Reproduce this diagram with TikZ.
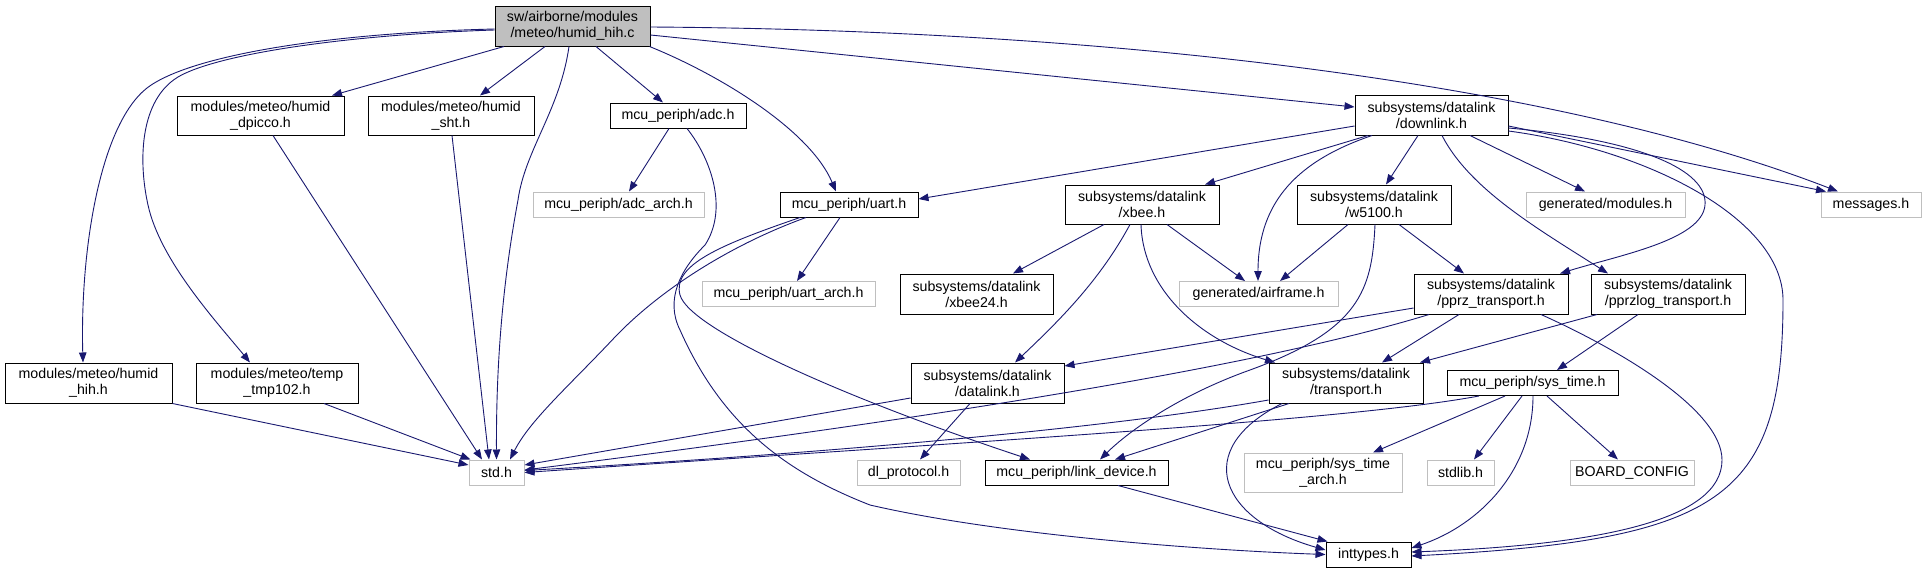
\documentclass[tikz,border=0pt]{standalone}
\usepackage{fontspec}
\setmainfont{Liberation Sans}
\usetikzlibrary{arrows.meta,calc}
\definecolor{edgeblue}{HTML}{191970}
\definecolor{lightgr}{HTML}{BFBFBF}
\begin{document}
\begin{tikzpicture}[x=1pt,y=-1pt,
 box/.style={draw=black, line width=1pt, fill=white, rectangle, inner sep=0pt, align=center, font=\fontsize{14.2}{16}\selectfont, text=black},
 gbox/.style={box, draw=lightgr},
 rootbox/.style={box, fill=lightgr},
 edge/.style={draw=edgeblue, line width=0.9pt, -{Triangle[length=10pt,width=7.5pt]}},
 ]
\useasboundingbox[fill=white] (0,0) rectangle (1927,573);
% nodes
\node[rootbox, minimum width=155pt, minimum height=40pt] (root) at (572.5,26) {sw/airborne/modules\\/meteo/humid\_hih.c};
\node[box, minimum width=167pt, minimum height=39pt] (dpicco) at (260.5,115.5) {modules/meteo/humid\\\_dpicco.h};
\node[box, minimum width=166pt, minimum height=39pt] (sht) at (451,115.5) {modules/meteo/humid\\\_sht.h};
\node[box, minimum width=136pt, minimum height=25pt] (adc) at (678,115.5) {mcu\_periph/adc.h};
\node[box, minimum width=153pt, minimum height=40pt] (downlink) at (1431.5,115) {subsystems/datalink\\/downlink.h};
\node[gbox, minimum width=100pt, minimum height=25pt] (messages) at (1871,204.5) {messages.h};
\node[gbox, minimum width=159pt, minimum height=25pt] (modules) at (1605.5,204.5) {generated/modules.h};
\node[box, minimum width=154pt, minimum height=39pt] (w5100) at (1374,204.5) {subsystems/datalink\\/w5100.h};
\node[box, minimum width=138pt, minimum height=25pt] (uart) at (849,204.5) {mcu\_periph/uart.h};
\node[box, minimum width=154pt, minimum height=39pt] (xbee) at (1142,204.5) {subsystems/datalink\\/xbee.h};
\node[gbox, minimum width=171pt, minimum height=25pt] (adcarch) at (618.5,204.5) {mcu\_periph/adc\_arch.h};
\node[gbox, minimum width=173pt, minimum height=25pt] (uartarch) at (788.5,294) {mcu\_periph/uart\_arch.h};
\node[box, minimum width=153pt, minimum height=40pt] (xbee24) at (976.5,294) {subsystems/datalink\\/xbee24.h};
\node[gbox, minimum width=159pt, minimum height=25pt] (airframe) at (1258.5,294) {generated/airframe.h};
\node[box, minimum width=154pt, minimum height=40pt] (pprz) at (1491,294) {subsystems/datalink\\/pprz\_transport.h};
\node[box, minimum width=154pt, minimum height=40pt] (pprzlog) at (1668,294) {subsystems/datalink\\/pprzlog\_transport.h};
\node[box, minimum width=167pt, minimum height=40pt] (hih) at (88.5,383) {modules/meteo/humid\\\_hih.h};
\node[box, minimum width=162pt, minimum height=40pt] (tmp) at (277,383) {modules/meteo/temp\\\_tmp102.h};
\node[box, minimum width=153pt, minimum height=40pt] (datalink) at (987.5,383) {subsystems/datalink\\/datalink.h};
\node[box, minimum width=154pt, minimum height=40pt] (transport) at (1346,383) {subsystems/datalink\\/transport.h};
\node[box, minimum width=171pt, minimum height=25pt] (systime) at (1532.5,383) {mcu\_periph/sys\_time.h};
\node[gbox, minimum width=55pt, minimum height=25pt] (std) at (496.5,472.5) {std.h};
\node[gbox, minimum width=103pt, minimum height=25pt] (dlp) at (908.5,472.5) {dl\_protocol.h};
\node[box, minimum width=183pt, minimum height=25pt] (link) at (1076.5,472.5) {mcu\_periph/link\_device.h};
\node[gbox, minimum width=158pt, minimum height=39pt] (sta) at (1323,472.5) {mcu\_periph/sys\_time\\\_arch.h};
\node[gbox, minimum width=67pt, minimum height=25pt] (stdlib) at (1460.5,472.5) {stdlib.h};
\node[gbox, minimum width=124pt, minimum height=25pt] (board) at (1632,472.5) {BOARD\_CONFIG};
\node[box, minimum width=85pt, minimum height=25pt] (inttypes) at (1368.5,554.5) {inttypes.h};
% edges from root
\draw[edge] ($(root.west)+(0,3)$) .. controls (330,33) and (190,55) .. (147,88) .. controls (100,125) and (80,250) .. ($(hih.north)+(-5.5,0)$);
\draw[edge] ($(root.west)+(0,4)$) .. controls (340,35) and (215,55) .. (178,77) .. controls (140,100) and (138,160) .. (148,205) .. controls (160,260) and (215,320) .. ($(tmp.north)+(-27,0)$);
\draw[edge] ($(root.south)+(-68.5,0)$) -- ($(dpicco.north)+(71.5,0)$);
\draw[edge] ($(root.south)+(-27.5,0)$) -- ($(sht.north)+(29,0)$);
\draw[edge] ($(root.south)+(-3.5,0)$) .. controls (560,110) and (525,150) .. (518,200) .. controls (505,270) and (496,350) .. (std.north);
\draw[edge] ($(root.south)+(23.5,0)$) -- ($(adc.north)+(-15,0)$);
\draw[edge] ($(root.south east)+(-1,0)$) .. controls (720,75) and (810,130) .. ($(uart.north)+(-13,0)$);
\draw[edge] ($(root.east)+(0,9)$) -- ($(downlink.west)+(0,-8)$);
\draw[edge] ($(root.east)+(0,1)$) .. controls (1100,30) and (1550,80) .. ($(messages.north)+(-33,0)$);
% to std
\draw[edge] ($(dpicco.south)+(12.5,0)$) -- ($(std.north)+(-14.5,0)$);
\draw[edge] ($(sht.south)+(1,0)$) -- ($(std.north)+(-7.5,0)$);
\draw[edge] (hih.south east) -- ($(std.west)+(0,-7.5)$);
\draw[edge] ($(tmp.south)+(47,0)$) -- ($(std.north west)+(2,0)$);
% adc
\draw[edge] ($(adc.south)+(-9,0)$) -- ($(adcarch.north)+(10.5,0)$);
\draw[edge] ($(adc.south)+(9,0)$) .. controls (712,160) and (728,210) .. (705,245) .. controls (680,270) and (665,300) .. (680,330) .. controls (720,420) and (780,470) .. (870,505) .. controls (1000,535) and (1200,550) .. (inttypes.west);
% uart
\draw[edge] ($(uart.south)+(-9,0)$) -- ($(uartarch.north)+(8.5,0)$);
\draw[edge] ($(uart.south)+(-43,0)$) .. controls (730,245) and (660,290) .. (615,337) .. controls (570,385) and (530,420) .. ($(std.north)+(13.5,0)$);
\draw[edge] ($(uart.south)+(-49,0)$) .. controls (720,245) and (672,265) .. (680,295) .. controls (690,330) and (850,400) .. ($(link.north)+(-46.5,0)$);
% downlink
\draw[edge] ($(downlink.west)+(0,11)$) -- ($(uart.east)+(0,-5.5)$);
\draw[edge] ($(downlink.south)+(-63.5,0)$) -- ($(xbee.north)+(63,0)$);
\draw[edge] ($(downlink.south)+(-13.5,0)$) -- ($(w5100.north)+(12,0)$);
\draw[edge] ($(downlink.south)+(-59.5,0)$) .. controls (1300,160) and (1258,200) .. ($(airframe.north)+(-0.5,0)$);
\draw[edge] ($(downlink.south)+(38.5,0)$) -- ($(modules.north)+(-20.5,0)$);
\draw[edge] ($(downlink.east)+(0,13)$) .. controls (1640,140) and (1708,170) .. (1705,205) .. controls (1702,240) and (1620,255) .. ($(pprz.north)+(69,0)$);
\draw[edge] ($(downlink.south)+(10.5,0)$) .. controls (1470,190) and (1540,230) .. ($(pprzlog.north)+(-60,0)$);
\draw[edge] ($(downlink.east)+(0,11)$) -- ($(messages.north)+(-45,0)$);
\draw[edge] ($(downlink.east)+(0,16)$) .. controls (1650,150) and (1783,220) .. (1783,300) .. controls (1783,500) and (1720,540) .. ($(inttypes.east)+(0,1.5)$);
% xbee
\draw[edge] ($(xbee.south)+(-38,0)$) -- ($(xbee24.north)+(36.5,0)$);
\draw[edge] ($(xbee.south)+(25,0)$) -- ($(airframe.north)+(-13.5,0)$);
\draw[edge] ($(xbee.south)+(-12,0)$) .. controls (1100,280) and (1060,320) .. ($(datalink.north)+(27.5,0)$);
\draw[edge] ($(xbee.south)+(-1,0)$) .. controls (1143,290) and (1200,340) .. ($(transport.north)+(-71,0)$);
% w5100
\draw[edge] ($(w5100.south)+(-26,0)$) -- ($(airframe.north)+(21.5,0)$);
\draw[edge] ($(w5100.south)+(25,0)$) -- ($(pprz.north)+(-27,0)$);
\draw[edge] ($(w5100.south)+(1,0)$) .. controls (1372,290) and (1360,330) .. (1250,370) .. controls (1180,395) and (1130,430) .. ($(link.north)+(23.5,0)$);
% pprz transport
\draw[edge] ($(pprz.west)+(0,14)$) -- ($(datalink.east)+(0,-17)$);
\draw[edge] ($(pprz.south)+(-32,0)$) -- ($(transport.north)+(36,0)$);
\draw[edge] ($(pprz.south)+(-62,0)$) .. controls (1280,360) and (1000,410) .. ($(std.east)+(0,-2.5)$);
\draw[edge] ($(pprz.south)+(50,0)$) .. controls (1620,350) and (1722,410) .. (1722,460) .. controls (1722,520) and (1600,545) .. ($(inttypes.east)+(0,-2.5)$);
% pprzlog
\draw[edge] ($(pprzlog.south)+(-71,0)$) -- ($(transport.north)+(74,0)$);
\draw[edge] ($(pprzlog.south)+(-30,0)$) -- ($(systime.north)+(24.5,0)$);
% datalink
\draw[edge] ($(datalink.south)+(-17.5,0)$) -- ($(dlp.north)+(11.5,0)$);
\draw[edge] ($(datalink.west)+(0,15)$) -- ($(std.east)+(0,-7.5)$);
% transport
\draw[edge] ($(transport.west)+(0,17)$) .. controls (1100,430) and (800,455) .. ($(std.east)+(0,-2)$);
\draw[edge] ($(transport.south)+(-57,0)$) -- ($(link.north)+(38.5,0)$);
\draw[edge] ($(transport.south)+(-64,0)$) .. controls (1190,450) and (1220,520) .. ($(inttypes.west)+(0,-4.5)$);
% sys_time
\draw[edge] ($(systime.south)+(-53.5,0)$) .. controls (1350,420) and (1000,440) .. (std.east);
\draw[edge] ($(systime.south)+(-27.5,0)$) -- ($(sta.north)+(50,0)$);
\draw[edge] ($(systime.south)+(-10.5,0)$) -- ($(stdlib.north)+(13.5,0)$);
\draw[edge] ($(systime.south)+(14.5,0)$) -- ($(board.north)+(-14,0)$);
\draw[edge] ($(systime.south)+(0.5,0)$) .. controls (1533,470) and (1480,525) .. ($(inttypes.east)+(0,-6.5)$);
% link device
\draw[edge] ($(link.south)+(41.5,0)$) -- ($(inttypes.north west)+(2,0)$);
\end{tikzpicture}
\end{document}
